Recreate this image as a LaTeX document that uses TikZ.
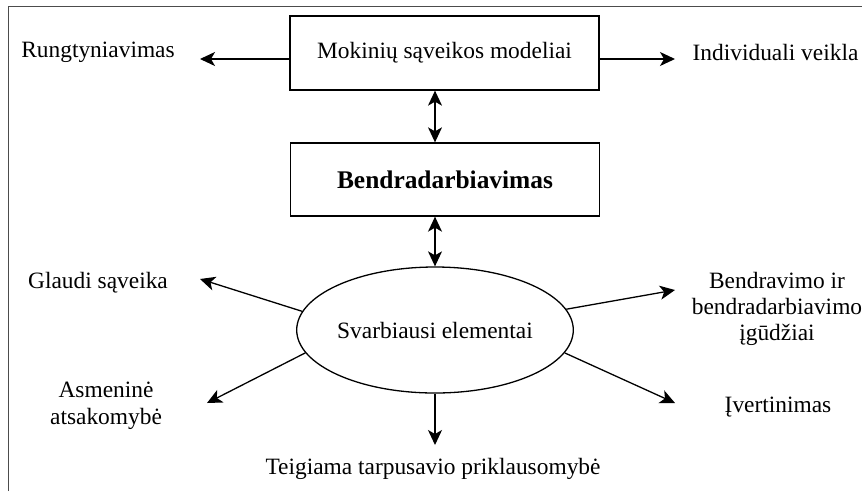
\documentclass[tikz,border=0pt]{standalone}
\usepackage{fontspec}
\setmainfont{Liberation Serif}
\usetikzlibrary{arrows.meta,shapes.geometric}
\tikzset{
  lbl/.style={font=\fontsize{23.4}{27}\selectfont,align=center,inner sep=2pt},
  box/.style={draw,line width=1.3pt,minimum width=309pt,minimum height=74pt,inner sep=0pt},
  oval/.style={draw,ellipse,line width=1.3pt,minimum width=271pt,minimum height=126pt,inner sep=0pt},
  link/.style={line width=1.3pt,-{Stealth[length=15pt,width=14pt,inset=4pt]}},
  twoway/.style={line width=1.3pt,{Stealth[length=15pt,width=14pt,inset=4pt]}-{Stealth[length=15pt,width=14pt,inset=4pt]}}
}
\begin{document}
\begin{tikzpicture}[x=1pt,y=-1pt]
  \useasboundingbox (0,0) rectangle (866,491);
  \draw[line width=1pt,black!70] (8,491) -- (8,6) -- (862,6);
  \draw
    (444.5,53) node[lbl,box] (models){Mokinių sąveikos modeliai}
    (445,179.5) node[lbl,box,minimum height=73pt,font=\fontsize{25.4}{29}\selectfont\bfseries] (collab){Bendradarbiavimas}
    (435,330) node[lbl,oval] (elems){Svarbiausi elementai}
    (98,52) node[lbl] (rung){Rungtyniavimas}
    (775.5,52) node[lbl] (indiv){Individuali veikla}
    (98,283) node[lbl] (glaudi){Glaudi sąveika}
    (106,406) node[lbl] (asmen){Asmeninė\\atsakomybė}
    (777,309) node[lbl,font=\fontsize{23.4}{26}\selectfont] (bendr){Bendravimo ir\\bendradarbiavimo\\įgūdžiai}
    (778,407) node[lbl] (ivert){Įvertinimas}
    (433,469) node[lbl] (teig){Teigiama tarpusavio priklausomybė};
  \coordinate (rungtip) at (200,59);
  \coordinate (indivtip) at (675,59);
  \coordinate (glauditip) at (200,279);
  \coordinate (asmentip) at (207,403);
  \coordinate (bendrtip) at (675,290);
  \coordinate (iverttip) at (675,403);
  \coordinate (teigtip) at (435,445);
  \begin{scope}[link]
    \draw ([yshift=-6pt]models.west) to (rungtip);
    \draw ([yshift=-6pt]models.east) to (indivtip);
    \draw (elems.172) to (glauditip);
    \draw (elems.190) to (asmentip);
    \draw (elems.9) to (bendrtip);
    \draw (elems.350) to (iverttip);
    \draw (elems.south) to (teigtip);
  \end{scope}
  \draw[twoway] (models.south -| elems.north) to (collab.north -| elems.north);
  \draw[twoway] (collab.south -| elems.north) to (elems.north);
\end{tikzpicture}
\end{document}
